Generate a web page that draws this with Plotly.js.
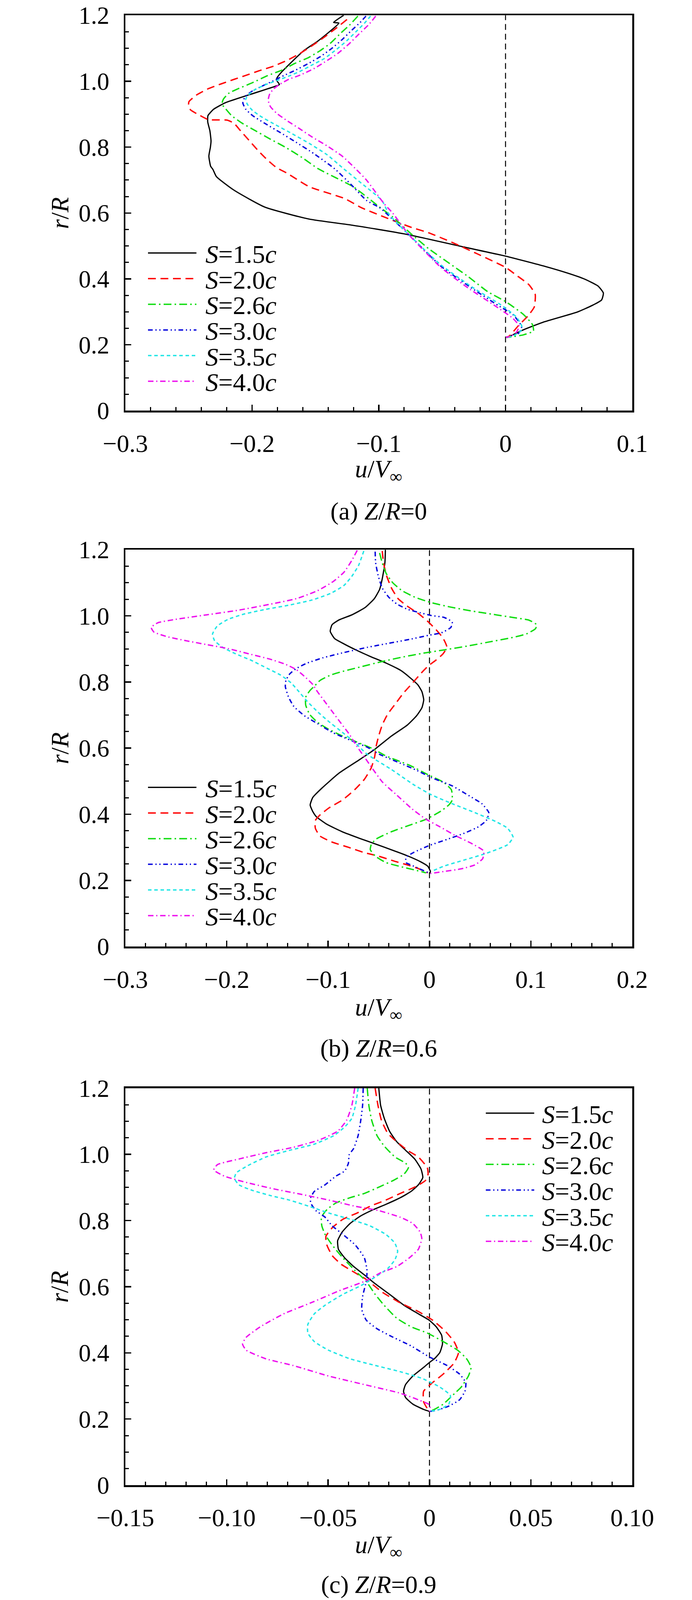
<!DOCTYPE html>
<html>
<head>
<meta charset="utf-8">
<script src="https://cdn.plot.ly/plotly-3.0.1.min.js"></script>
<style>
html,body{margin:0;padding:0;background:#ffffff;overflow:hidden;}
#chart{width:1772px;height:4180px;}
</style>
</head>
<body>
<div id="chart"></div>
<script>
// ---------------- DATA ----------------
const seriesLabels = ['<i>S</i>=1.5<i>c</i>', '<i>S</i>=2.0<i>c</i>', '<i>S</i>=2.6<i>c</i>', '<i>S</i>=3.0<i>c</i>', '<i>S</i>=3.5<i>c</i>', '<i>S</i>=4.0<i>c</i>'];
const panelCaptions = ['(a) <i>Z</i>/<i>R</i>=0', '(b) <i>Z</i>/<i>R</i>=0.6', '(c) <i>Z</i>/<i>R</i>=0.9'];
const xAxisTitle = '<i>u</i>/<i>V</i><sub>\u221e</sub>';
const yAxisTitle = '<i>r</i>/<i>R</i>';

const yTickVals = [0, 0.2, 0.4, 0.6, 0.8, 1.0, 1.2];
const yTickText = ['0', '0.2', '0.4', '0.6', '0.8', '1.0', '1.2'];
const xTickValsA = [-0.3, -0.2, -0.1, 0, 0.1];
const xTickTextA = ['\u22120.3', '\u22120.2', '\u22120.1', '0', '0.1'];
const xTickValsB = [-0.3, -0.2, -0.1, 0, 0.1, 0.2];
const xTickTextB = ['\u22120.3', '\u22120.2', '\u22120.1', '0', '0.1', '0.2'];
const xTickValsC = [-0.15, -0.10, -0.05, 0, 0.05, 0.10];
const xTickTextC = ['\u22120.15', '\u22120.10', '\u22120.05', '0', '0.05', '0.10'];

// Panel (a) Z/R = 0
const a15u = [-0.1277, -0.1357, -0.1315, -0.1478, -0.1595, -0.1761, -0.1802, -0.1808, -0.1784, -0.1820, -0.2020, -0.2209, -0.2303, -0.2348, -0.2350, -0.2333, -0.2324, -0.2329, -0.2341, -0.2327, -0.2309, -0.2282, -0.2143, -0.1899, -0.1551, -0.1210, -0.0791, -0.0339, 0.0004, 0.0312, 0.0496, 0.0623, 0.0730, 0.0772, 0.0758, 0.0680, 0.0567, 0.0298, 0.0142, 0.0058, 0.0012];
const a15r = [1.2000, 1.1784, 1.1765, 1.1227, 1.0919, 1.0304, 1.0111, 1.0034, 0.9900, 0.9842, 0.9592, 0.9350, 0.9150, 0.8957, 0.8765, 0.8496, 0.8188, 0.7996, 0.7727, 0.7419, 0.7323, 0.7107, 0.6694, 0.6178, 0.5817, 0.5630, 0.5361, 0.4977, 0.4688, 0.4380, 0.4169, 0.3996, 0.3784, 0.3573, 0.3361, 0.3188, 0.2996, 0.2688, 0.2457, 0.2304, 0.2219];
const a20u = [-0.1251, -0.1336, -0.1442, -0.1536, -0.1619, -0.1725, -0.1831, -0.1949, -0.2055, -0.2150, -0.2244, -0.2350, -0.2439, -0.2498, -0.2501, -0.2486, -0.2409, -0.2344, -0.2197, -0.2144, -0.2091, -0.2020, -0.1949, -0.1879, -0.1808, -0.1725, -0.1550, -0.1270, -0.1131, -0.0933, -0.0749, -0.0607, -0.0423, -0.0225, 0.0004, 0.0086, 0.0185, 0.0234, 0.0227, 0.0178, 0.0100, 0.0029, 0.0004];
const a20r = [1.1873, 1.1611, 1.1304, 1.1054, 1.0850, 1.0630, 1.0457, 1.0311, 1.0169, 1.0046, 0.9919, 0.9765, 0.9580, 0.9381, 0.9284, 0.9131, 0.8957, 0.8834, 0.8819, 0.8727, 0.8496, 0.8188, 0.7881, 0.7611, 0.7380, 0.7210, 0.6800, 0.6440, 0.6150, 0.5842, 0.5573, 0.5400, 0.5111, 0.4765, 0.4342, 0.4111, 0.3823, 0.3534, 0.3150, 0.2881, 0.2573, 0.2265, 0.2227];
const a26u = [-0.1165, -0.1230, -0.1301, -0.1383, -0.1466, -0.1560, -0.1666, -0.1761, -0.1878, -0.1996, -0.2114, -0.2185, -0.2226, -0.2238, -0.2214, -0.2162, -0.2079, -0.1973, -0.1867, -0.1737, -0.1607, -0.1478, -0.1202, -0.0993, -0.0890, -0.0749, -0.0607, -0.0452, -0.0296, -0.0140, 0.0004, 0.0142, 0.0213, 0.0220, 0.0142, 0.0058, 0.0004];
const a26r = [1.1977, 1.1707, 1.1457, 1.1150, 1.0919, 1.0707, 1.0534, 1.0342, 1.0169, 0.9957, 0.9765, 0.9631, 0.9457, 0.9304, 0.9188, 0.8957, 0.8727, 0.8496, 0.8265, 0.7996, 0.7688, 0.7342, 0.6797, 0.6178, 0.5880, 0.5381, 0.4919, 0.4496, 0.4073, 0.3611, 0.3304, 0.2919, 0.2611, 0.2419, 0.2304, 0.2246, 0.2227];
const a30u = [-0.1101, -0.1147, -0.1217, -0.1289, -0.1371, -0.1454, -0.1548, -0.1654, -0.1761, -0.1831, -0.1926, -0.1996, -0.2055, -0.2073, -0.2050, -0.1996, -0.1902, -0.1784, -0.1654, -0.1513, -0.1348, -0.1220, -0.1098, -0.0989, -0.0763, -0.0508, -0.0254, -0.0056, 0.0058, 0.0114, 0.0128, 0.0100, 0.0029, 0.0004];
const a30r = [1.1977, 1.1784, 1.1534, 1.1265, 1.0996, 1.0765, 1.0554, 1.0342, 1.0150, 1.0015, 0.9842, 0.9707, 0.9534, 0.9342, 0.9150, 0.8957, 0.8727, 0.8457, 0.8150, 0.7804, 0.7342, 0.6870, 0.6385, 0.6150, 0.5342, 0.4380, 0.3688, 0.3188, 0.2919, 0.2650, 0.2496, 0.2342, 0.2246, 0.2227];
const a35u = [-0.1065, -0.1112, -0.1182, -0.1253, -0.1336, -0.1430, -0.1525, -0.1619, -0.1713, -0.1808, -0.1902, -0.1985, -0.2032, -0.2050, -0.2038, -0.1996, -0.1926, -0.1820, -0.1690, -0.1548, -0.1407, -0.1277, -0.1120, -0.0975, -0.0919, -0.0763, -0.0508, -0.0254, -0.0027, 0.0086, 0.0128, 0.0121, 0.0058, 0.0004];
const a35r = [1.1977, 1.1765, 1.1496, 1.1227, 1.0958, 1.0688, 1.0496, 1.0304, 1.0150, 1.0015, 0.9881, 0.9727, 0.9573, 0.9457, 0.9304, 0.9111, 0.8919, 0.8688, 0.8419, 0.8111, 0.7765, 0.7342, 0.6850, 0.6380, 0.5958, 0.5342, 0.4419, 0.3727, 0.3188, 0.2842, 0.2573, 0.2419, 0.2265, 0.2227];
const a40u = [-0.1024, -0.1077, -0.1160, -0.1230, -0.1324, -0.1430, -0.1513, -0.1619, -0.1713, -0.1784, -0.1831, -0.1861, -0.1873, -0.1855, -0.1808, -0.1725, -0.1631, -0.1525, -0.1407, -0.1289, -0.1183, -0.1098, -0.0958, -0.0890, -0.0763, -0.0508, -0.0296, -0.0084, 0.0058, 0.0107, 0.0086, 0.0029, 0.0004];
const a40r = [1.1977, 1.1727, 1.1419, 1.1150, 1.0842, 1.0573, 1.0380, 1.0188, 1.0054, 0.9900, 0.9765, 0.9611, 0.9419, 0.9227, 0.9034, 0.8804, 0.8573, 0.8304, 0.8034, 0.7727, 0.7342, 0.7004, 0.6282, 0.5996, 0.5342, 0.4342, 0.3727, 0.3188, 0.2804, 0.2573, 0.2381, 0.2246, 0.2227];

// Panel (b) Z/R = 0.6
const b15u = [-0.0435, -0.0440, -0.0466, -0.0492, -0.0544, -0.0635, -0.0765, -0.0896, -0.0961, -0.0979, -0.0935, -0.0843, -0.0713, -0.0583, -0.0427, -0.0284, -0.0192, -0.0114, -0.0075, -0.0057, -0.0075, -0.0127, -0.0218, -0.0378, -0.0550, -0.0721, -0.0894, -0.1065, -0.1151, -0.1177, -0.1151, -0.1117, -0.1014, -0.0859, -0.0687, -0.0532, -0.0360, -0.0206, -0.0085, -0.0017, 0.0009, 0.0000];
const b15r = [1.200, 1.160, 1.112, 1.080, 1.052, 1.025, 1.003, 0.987, 0.973, 0.953, 0.931, 0.915, 0.895, 0.877, 0.857, 0.835, 0.813, 0.791, 0.771, 0.746, 0.722, 0.698, 0.670, 0.636, 0.594, 0.559, 0.524, 0.478, 0.451, 0.428, 0.408, 0.393, 0.370, 0.347, 0.327, 0.310, 0.291, 0.273, 0.256, 0.243, 0.227, 0.221];
const b20u = [-0.0466, -0.0453, -0.0422, -0.0375, -0.0310, -0.0218, -0.0101, -0.0010, 0.0068, 0.0133, 0.0172, 0.0133, 0.0068, -0.0010, -0.0075, -0.0167, -0.0258, -0.0336, -0.0414, -0.0466, -0.0500, -0.0526, -0.0541, -0.0575, -0.0644, -0.0739, -0.0859, -0.0988, -0.1083, -0.1126, -0.1126, -0.1083, -0.0962, -0.0807, -0.0653, -0.0498, -0.0343, -0.0206, -0.0102, -0.0017];
const b20r = [1.196, 1.160, 1.120, 1.084, 1.052, 1.029, 1.005, 0.981, 0.957, 0.933, 0.905, 0.885, 0.867, 0.849, 0.829, 0.797, 0.766, 0.734, 0.702, 0.670, 0.638, 0.606, 0.574, 0.540, 0.505, 0.474, 0.443, 0.420, 0.397, 0.381, 0.358, 0.335, 0.316, 0.301, 0.285, 0.273, 0.258, 0.246, 0.235, 0.223];
const b26u = [-0.0492, -0.0466, -0.0427, -0.0362, -0.0271, -0.0141, 0.0016, 0.0198, 0.0407, 0.0615, 0.0824, 0.0980, 0.1058, 0.1045, 0.0954, 0.0797, 0.0589, 0.0381, 0.0146, -0.0062, -0.0271, -0.0479, -0.0661, -0.0843, -0.0974, -0.1078, -0.1130, -0.1182, -0.1221, -0.1221, -0.1182, -0.1104, -0.1000, -0.0869, -0.0713, -0.0557, -0.0440, -0.0378, -0.0188, -0.0017, 0.0138, 0.0216, 0.0224, 0.0190, 0.0104, -0.0034, -0.0206, -0.0378, -0.0532, -0.0575, -0.0584, -0.0532, -0.0429, -0.0274, -0.0137, -0.0034];
const b26r = [1.190, 1.160, 1.128, 1.100, 1.076, 1.056, 1.040, 1.027, 1.015, 1.005, 0.995, 0.987, 0.973, 0.961, 0.945, 0.933, 0.921, 0.909, 0.897, 0.887, 0.875, 0.861, 0.847, 0.833, 0.821, 0.805, 0.789, 0.773, 0.754, 0.730, 0.702, 0.678, 0.658, 0.638, 0.618, 0.598, 0.578, 0.570, 0.547, 0.520, 0.497, 0.474, 0.443, 0.428, 0.408, 0.385, 0.366, 0.347, 0.324, 0.308, 0.293, 0.273, 0.254, 0.241, 0.231, 0.223];
const b30u = [-0.0536, -0.0531, -0.0505, -0.0466, -0.0401, -0.0323, -0.0219, -0.0089, 0.0016, 0.0146, 0.0224, 0.0211, 0.0120, -0.0010, -0.0193, -0.0401, -0.0609, -0.0844, -0.1052, -0.1208, -0.1312, -0.1377, -0.1416, -0.1422, -0.1390, -0.1338, -0.1234, -0.1104, -0.0948, -0.0765, -0.0609, -0.0498, -0.0292, -0.0120, 0.0018, 0.0224, 0.0396, 0.0517, 0.0585, 0.0560, 0.0482, 0.0345, 0.0173, 0.0001, -0.0154, -0.0231, -0.0231, -0.0154, -0.0068, -0.0008];
const b30r = [1.194, 1.160, 1.120, 1.084, 1.056, 1.036, 1.020, 1.009, 1.001, 0.995, 0.981, 0.965, 0.949, 0.941, 0.929, 0.917, 0.905, 0.889, 0.873, 0.857, 0.841, 0.825, 0.805, 0.786, 0.754, 0.726, 0.698, 0.674, 0.646, 0.622, 0.602, 0.582, 0.555, 0.532, 0.511, 0.486, 0.455, 0.432, 0.405, 0.381, 0.362, 0.343, 0.324, 0.306, 0.285, 0.270, 0.254, 0.243, 0.231, 0.223];
const b35u = [-0.0648, -0.0700, -0.0765, -0.0843, -0.0974, -0.1156, -0.1390, -0.1625, -0.1833, -0.1989, -0.2094, -0.2140, -0.2120, -0.2042, -0.1911, -0.1755, -0.1599, -0.1469, -0.1364, -0.1286, -0.1208, -0.1104, -0.1000, -0.0869, -0.0739, -0.0618, -0.0378, -0.0154, 0.0018, 0.0224, 0.0448, 0.0654, 0.0770, 0.0824, 0.0771, 0.0551, 0.0345, 0.0139, 0.0018];
const b35r = [1.196, 1.152, 1.120, 1.092, 1.068, 1.048, 1.032, 1.019, 1.005, 0.989, 0.969, 0.945, 0.925, 0.905, 0.885, 0.865, 0.841, 0.821, 0.797, 0.770, 0.742, 0.710, 0.682, 0.650, 0.618, 0.582, 0.536, 0.489, 0.459, 0.432, 0.405, 0.378, 0.358, 0.331, 0.308, 0.281, 0.262, 0.243, 0.227];
const b40u = [-0.0713, -0.0765, -0.0843, -0.0948, -0.1104, -0.1312, -0.1573, -0.1885, -0.2198, -0.2510, -0.2680, -0.2745, -0.2719, -0.2588, -0.2406, -0.2198, -0.1989, -0.1781, -0.1573, -0.1417, -0.1312, -0.1234, -0.1156, -0.1104, -0.1026, -0.0948, -0.0870, -0.0791, -0.0726, -0.0653, -0.0567, -0.0463, -0.0326, -0.0171, -0.0034, 0.0104, 0.0259, 0.0414, 0.0534, 0.0525, 0.0448, 0.0311, 0.0139, 0.0010];
const b40r = [1.198, 1.168, 1.132, 1.104, 1.076, 1.052, 1.035, 1.017, 1.003, 0.989, 0.979, 0.965, 0.951, 0.937, 0.925, 0.913, 0.901, 0.885, 0.869, 0.853, 0.837, 0.817, 0.794, 0.770, 0.738, 0.706, 0.674, 0.642, 0.610, 0.578, 0.540, 0.497, 0.459, 0.416, 0.385, 0.362, 0.335, 0.312, 0.289, 0.266, 0.247, 0.235, 0.227, 0.221];

// Panel (c) Z/R = 0.9
const c15u = [-0.0250, -0.0241, -0.0223, -0.0197, -0.0161, -0.0117, -0.0073, -0.0042, -0.0033, -0.0055, -0.0091, -0.0144, -0.0215, -0.0277, -0.0339, -0.0392, -0.0431, -0.0453, -0.0449, -0.0418, -0.0374, -0.0320, -0.0268, -0.0197, -0.0126, -0.0055, -0.0002, 0.0033, 0.0060, 0.0064, 0.0051, 0.0024, 0.0002, -0.0029, -0.0082, -0.0118, -0.0128, -0.0118, -0.0082, -0.0029, 0.0000];
const c15r = [1.200, 1.148, 1.109, 1.070, 1.038, 1.012, 0.986, 0.956, 0.930, 0.908, 0.888, 0.869, 0.849, 0.833, 0.814, 0.791, 0.765, 0.739, 0.713, 0.687, 0.661, 0.635, 0.609, 0.577, 0.544, 0.518, 0.499, 0.479, 0.453, 0.427, 0.401, 0.382, 0.372, 0.356, 0.330, 0.304, 0.284, 0.265, 0.245, 0.229, 0.223];
const c20u = [-0.0268, -0.0254, -0.0237, -0.0206, -0.0161, -0.0108, -0.0055, -0.0011, -0.0007, -0.0020, -0.0073, -0.0144, -0.0215, -0.0294, -0.0356, -0.0427, -0.0480, -0.0511, -0.0506, -0.0480, -0.0436, -0.0383, -0.0312, -0.0232, -0.0144, -0.0055, 0.0015, 0.0077, 0.0121, 0.0143, 0.0121, 0.0068, 0.0015, -0.0029, -0.0029, -0.0011, 0.0000];
const c20r = [1.200, 1.148, 1.103, 1.064, 1.038, 1.012, 0.992, 0.960, 0.940, 0.921, 0.901, 0.882, 0.862, 0.843, 0.823, 0.804, 0.778, 0.752, 0.726, 0.694, 0.668, 0.648, 0.622, 0.583, 0.551, 0.525, 0.499, 0.466, 0.434, 0.401, 0.369, 0.336, 0.310, 0.284, 0.252, 0.232, 0.223];
const c26u = [-0.0307, -0.0299, -0.0285, -0.0259, -0.0223, -0.0170, -0.0117, -0.0104, -0.0126, -0.0179, -0.0250, -0.0321, -0.0392, -0.0462, -0.0506, -0.0533, -0.0531, -0.0515, -0.0480, -0.0427, -0.0366, -0.0312, -0.0268, -0.0224, -0.0162, -0.0091, -0.0011, 0.0068, 0.0139, 0.0183, 0.0205, 0.0192, 0.0157, 0.0113, 0.0068, 0.0024, 0.0000];
const c26r = [1.200, 1.148, 1.103, 1.057, 1.025, 0.992, 0.973, 0.960, 0.940, 0.921, 0.901, 0.882, 0.869, 0.853, 0.833, 0.810, 0.784, 0.758, 0.726, 0.687, 0.648, 0.616, 0.577, 0.544, 0.505, 0.479, 0.460, 0.434, 0.408, 0.382, 0.356, 0.330, 0.297, 0.271, 0.245, 0.229, 0.223];
const c30u = [-0.0327, -0.0330, -0.0339, -0.0352, -0.0374, -0.0396, -0.0400, -0.0418, -0.0462, -0.0515, -0.0568, -0.0586, -0.0586, -0.0560, -0.0515, -0.0480, -0.0427, -0.0366, -0.0321, -0.0308, -0.0312, -0.0330, -0.0334, -0.0312, -0.0259, -0.0179, -0.0091, -0.0002, 0.0086, 0.0148, 0.0179, 0.0175, 0.0148, 0.0095, 0.0033, 0.0000];
const c30r = [1.200, 1.148, 1.103, 1.057, 1.018, 0.999, 0.973, 0.950, 0.934, 0.908, 0.888, 0.869, 0.853, 0.830, 0.810, 0.784, 0.758, 0.726, 0.687, 0.648, 0.616, 0.570, 0.531, 0.499, 0.473, 0.447, 0.421, 0.388, 0.362, 0.336, 0.310, 0.284, 0.258, 0.239, 0.226, 0.223];
const c35u = [-0.0352, -0.0365, -0.0383, -0.0418, -0.0471, -0.0568, -0.0692, -0.0807, -0.0896, -0.0953, -0.0962, -0.0940, -0.0878, -0.0781, -0.0692, -0.0594, -0.0498, -0.0392, -0.0294, -0.0215, -0.0171, -0.0157, -0.0171, -0.0206, -0.0268, -0.0339, -0.0427, -0.0515, -0.0568, -0.0600, -0.0600, -0.0568, -0.0498, -0.0392, -0.0268, -0.0144, -0.0038, 0.0050, 0.0103, 0.0095, 0.0050, 0.0000];
const c35r = [1.200, 1.148, 1.109, 1.083, 1.057, 1.031, 1.012, 0.992, 0.966, 0.944, 0.927, 0.908, 0.892, 0.875, 0.862, 0.843, 0.823, 0.804, 0.784, 0.758, 0.732, 0.707, 0.681, 0.655, 0.629, 0.603, 0.577, 0.544, 0.518, 0.486, 0.460, 0.434, 0.408, 0.382, 0.362, 0.343, 0.323, 0.297, 0.271, 0.245, 0.229, 0.223];
const c40u = [-0.0369, -0.0383, -0.0409, -0.0453, -0.0542, -0.0674, -0.0807, -0.0940, -0.1046, -0.1064, -0.1011, -0.0896, -0.0763, -0.0630, -0.0498, -0.0365, -0.0250, -0.0144, -0.0082, -0.0046, -0.0038, -0.0055, -0.0100, -0.0161, -0.0241, -0.0321, -0.0436, -0.0586, -0.0719, -0.0834, -0.0904, -0.0922, -0.0904, -0.0807, -0.0674, -0.0498, -0.0321, -0.0144, -0.0055, 0.0002, 0.0000];
const c40r = [1.200, 1.148, 1.103, 1.070, 1.044, 1.021, 1.005, 0.986, 0.969, 0.953, 0.934, 0.914, 0.895, 0.879, 0.862, 0.843, 0.830, 0.810, 0.791, 0.765, 0.745, 0.713, 0.687, 0.661, 0.642, 0.616, 0.590, 0.551, 0.518, 0.479, 0.447, 0.427, 0.408, 0.382, 0.362, 0.330, 0.304, 0.278, 0.258, 0.242, 0.223];

// ---------------- STYLE / LAYOUT ----------------
const W = 1772, H = 4180;               // reference canvas
const Wv = window.innerWidth > 0 ? window.innerWidth : W;   // real viewport
const Hv = window.innerHeight > 0 ? window.innerHeight : H;
const sx = Wv / W, sy = Hv / H;
const chartDiv = document.getElementById('chart');
chartDiv.style.width = Wv + 'px';
chartDiv.style.height = Hv + 'px';

const FONT = 'Liberation Serif';
const lineStyles = [
  {color: '#000000', width: 3.2, dash: 'solid'},
  {color: '#ff0000', width: 3.5, dash: '20px,12px'},
  {color: '#11dd11', width: 3.5, dash: '20px,8px,4px,8px'},
  {color: '#0000dd', width: 3.5, dash: '12px,7px,3px,7px,3px,7px'},
  {color: '#22e6e6', width: 3.5, dash: '9px,7px'},
  {color: '#ee11ee', width: 3.5, dash: '14px,7px,3px,7px'}
];

const panels = [
  {u: [a15u, a20u, a26u, a30u, a35u, a40u], r: [a15r, a20r, a26r, a30r, a35r, a40r],
   xr: [-0.3, 0.1], xtv: xTickValsA, xtt: xTickTextA, minorDx: 0.02,
   top: 40, bottom: 1073, xtitle: 1230, caption: 1335, legTop: 661, legLineX: [379, 503], legTextX: 524},
  {u: [b15u, b20u, b26u, b30u, b35u, b40u], r: [b15r, b20r, b26r, b30r, b35r, b40r],
   xr: [-0.3, 0.2], xtv: xTickValsB, xtt: xTickTextB, minorDx: 0.02,
   top: 1436, bottom: 2473, xtitle: 2636, caption: 2739, legTop: 2057, legLineX: [379, 503], legTextX: 524},
  {u: [c15u, c20u, c26u, c30u, c35u, c40u], r: [c15r, c20r, c26r, c30r, c35r, c40r],
   xr: [-0.15, 0.10], xtv: xTickValsC, xtt: xTickTextC, minorDx: 0.01,
   top: 2843, bottom: 3880, xtitle: 4040, caption: 4140, legTop: 2908, legLineX: [1244, 1368], legTextX: 1386}
];
const plotLeft = 321, plotRight = 1619, yTitleX = 153;
const legStep = 67;

const px = X => (X * sx) / Wv;
const py = Y => 1 - (Y * sy) / Hv;

const traces = [];
const shapes = [];
const annotations = [];
const layout = {
  width: Wv, height: Hv,
  margin: {l: 0, r: 0, t: 0, b: 0, pad: 0},
  paper_bgcolor: '#ffffff', plot_bgcolor: '#ffffff',
  showlegend: false,
  font: {family: FONT, color: '#000000', size: 62}
};

panels.forEach((p, i) => {
  const n = i === 0 ? '' : String(i + 1);
  const xa = 'x' + n, ya = 'y' + n;
  p.u.forEach((uArr, k) => {
    traces.push({
      type: 'scatter', mode: 'lines', x: uArr, y: p.r[k],
      xaxis: xa, yaxis: ya, name: seriesLabels[k].replace(/<\/?i>/g, ''),
      line: {color: lineStyles[k].color, width: lineStyles[k].width, dash: lineStyles[k].dash, shape: 'spline', smoothing: 0.5},
      hoverinfo: 'skip'
    });
  });
  const axCommon = {
    showline: true, linecolor: '#000000', linewidth: 4.5, mirror: true,
    ticks: 'inside', ticklen: 15, tickwidth: 3.5, tickcolor: '#000000',
    showgrid: false, zeroline: false, fixedrange: true,
    ticklabeloverflow: 'allow'
  };
  layout['xaxis' + n] = Object.assign({}, axCommon, {
    domain: [px(plotLeft), px(plotRight)], anchor: ya, range: p.xr,
    tickmode: 'array', tickvals: p.xtv, ticktext: p.xtt,
    tickfont: {family: FONT, size: 64, color: '#000000'},
    minor: {ticks: 'inside', ticklen: 9, tickwidth: 3, tickcolor: '#000000', dtick: p.minorDx, tick0: 0, showgrid: false},
    ticklabelstandoff: 24
  });
  layout['yaxis' + n] = Object.assign({}, axCommon, {
    domain: [py(p.bottom), py(p.top)], anchor: xa, range: [0, 1.2],
    tickmode: 'array', tickvals: yTickVals, ticktext: yTickText,
    tickfont: {family: FONT, size: 63, color: '#000000'},
    minor: {ticks: 'inside', ticklen: 9, tickwidth: 3, tickcolor: '#000000', dtick: 0.05, tick0: 0, showgrid: false},
    ticklabelstandoff: 24
  });
  // axis titles
  annotations.push({xref: 'paper', yref: 'paper', x: px((plotLeft + plotRight) / 2), y: py(p.xtitle),
    xanchor: 'center', yanchor: 'middle', showarrow: false, text: xAxisTitle,
    font: {family: FONT, size: 64, color: '#000000'}});
  annotations.push({xref: 'paper', yref: 'paper', x: px(yTitleX), y: py((p.top + p.bottom) / 2),
    xanchor: 'center', yanchor: 'middle', showarrow: false, text: yAxisTitle, textangle: -90,
    font: {family: FONT, size: 64, color: '#000000'}});
  // dashed zero reference line
  shapes.push({type: 'line', xref: xa, yref: ya + ' domain', x0: 0, x1: 0, y0: 0, y1: 1,
    line: {color: '#000000', width: 2.5, dash: '15px,10px'}, layer: 'below'});
  // legend
  seriesLabels.forEach((lab, k) => {
    const Y = p.legTop + k * legStep;
    shapes.push({type: 'line', xref: 'paper', yref: 'paper',
      x0: px(p.legLineX[0]), x1: px(p.legLineX[1]), y0: py(Y), y1: py(Y),
      line: {color: lineStyles[k].color, width: lineStyles[k].width, dash: lineStyles[k].dash}});
    annotations.push({xref: 'paper', yref: 'paper', x: px(p.legTextX), y: py(Y + 3),
      xanchor: 'left', yanchor: 'middle', showarrow: false, text: lab,
      font: {family: FONT, size: 66, color: '#000000'}});
  });
  // caption
  annotations.push({xref: 'paper', yref: 'paper', x: px((plotLeft + plotRight) / 2), y: py(p.caption),
    xanchor: 'center', yanchor: 'middle', showarrow: false, text: panelCaptions[i],
    font: {family: FONT, size: 64, color: '#000000'}});
});
layout.shapes = shapes;
layout.annotations = annotations;

Plotly.newPlot(chartDiv, traces, layout, {displayModeBar: false, staticPlot: true});
</script>
</body>
</html>
